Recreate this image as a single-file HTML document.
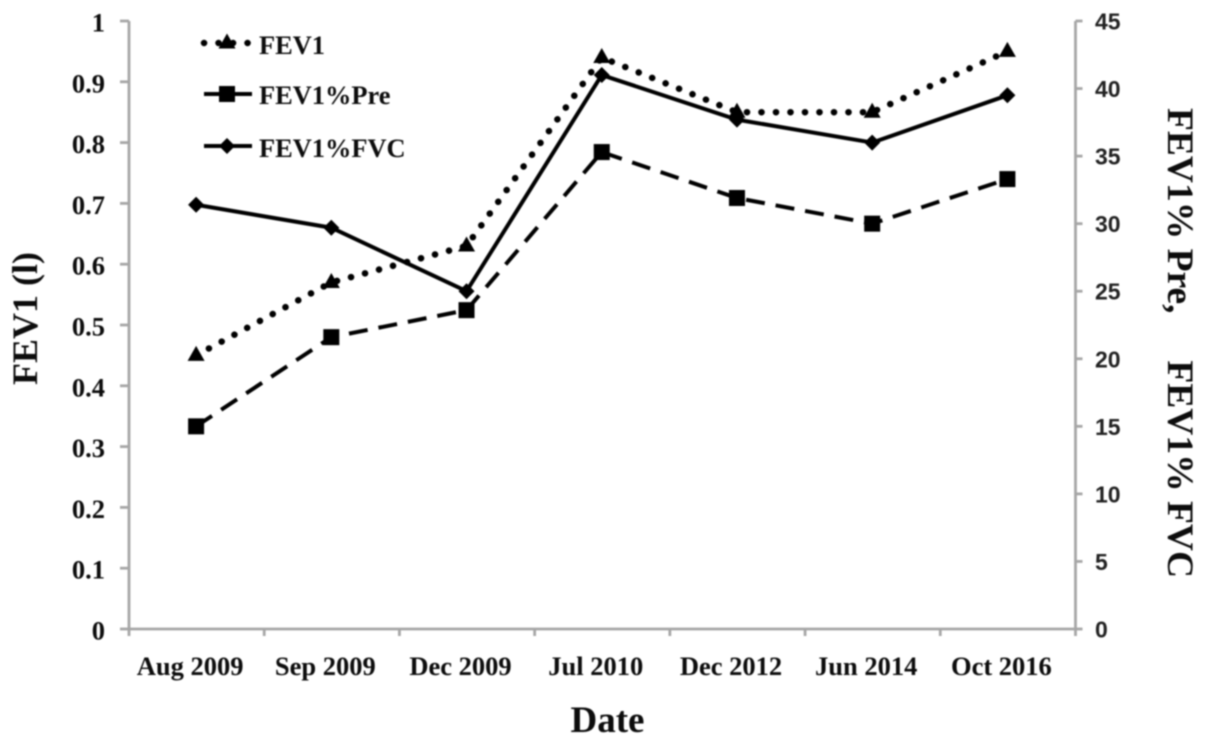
<!DOCTYPE html>
<html lang="en">
<head>
<meta charset="utf-8">
<title>FEV1 over time</title>
<style>
html,body{margin:0;padding:0;background:#fff;width:1205px;height:744px;overflow:hidden}
svg{display:block;filter:blur(0.8px)}
text{fill:#0c0c0c}
.serif{font-family:"Liberation Serif",serif;font-weight:bold}
.sans{font-family:"Liberation Sans",sans-serif;font-weight:bold;fill:#222}
</style>
</head>
<body>
<svg id="chart" xmlns="http://www.w3.org/2000/svg" width="1205" height="744" viewBox="0 0 1205 744">
<rect width="1205" height="744" fill="#fff"/>
<g id="axes"></g>
<g id="series"></g>
<g id="legend"></g>
<text class="serif" x="607.5" y="732" text-anchor="middle" font-size="37">Date</text>
<text class="serif" transform="translate(37,385) rotate(-90)" font-size="36">FEV1 (l)</text>
<text class="serif" transform="translate(1168,343) rotate(90)" text-anchor="middle" font-size="37.5" style="white-space:pre">FEV1% Pre,     FEV1% FVC</text>
</svg>
<script>
const categories = ['Aug 2009', 'Sep 2009', 'Dec 2009', 'Jul 2010', 'Dec 2012', 'Jun 2014', 'Oct 2016'];
const leftTicks = ['0', '0.1', '0.2', '0.3', '0.4', '0.5', '0.6', '0.7', '0.8', '0.9', '1'];
const rightTicks = ['0', '5', '10', '15', '20', '25', '30', '35', '40', '45'];
const fev1Values = [0.45, 0.57, 0.63, 0.94, 0.85, 0.85, 0.95];
const fev1PreValues = [15, 21.6, 23.6, 35.3, 31.9, 30, 33.3];
const fev1FvcValues = [31.4, 29.7, 25, 41, 37.7, 36, 39.5];

const NS = 'http://www.w3.org/2000/svg';
const plotLeft = 129, plotRight = 1075.5, plotTop = 21, plotBottom = 629;
const leftMax = 1, rightMax = 45;

function xScale(i) { return plotLeft - 0.5 + (i + 0.5) * (plotRight - plotLeft) / categories.length; }
function yLeft(v) { return plotBottom - (v / leftMax) * (plotBottom - plotTop); }
function yRight(v) { return plotBottom - (v / rightMax) * (plotBottom - plotTop); }

function make(tag, attrs, parent, text) {
  const el = document.createElementNS(NS, tag);
  for (const k in attrs) el.setAttribute(k, attrs[k]);
  if (text !== undefined) el.textContent = text;
  parent.appendChild(el);
  return el;
}
const axisStyle = { stroke: '#a6a6a6', 'stroke-width': 2.8, fill: 'none' };

function marker(kind, cx, cy, parent) {
  if (kind === 'triangle') {
    return make('polygon', { points: `${cx},${cy - 9.5} ${cx + 8.5},${cy + 5.5} ${cx - 8.5},${cy + 5.5}`, fill: '#000' }, parent);
  }
  if (kind === 'square') {
    return make('rect', { x: cx - 8, y: cy - 8, width: 16, height: 16, fill: '#000' }, parent);
  }
  return make('polygon', { points: `${cx},${cy - 8} ${cx + 8},${cy} ${cx},${cy + 8} ${cx - 8},${cy}`, fill: '#000' }, parent);
}

const axes = document.getElementById('axes');
const seriesGroup = document.getElementById('series');
const legend = document.getElementById('legend');

const leftAxis = make('line', Object.assign({ x1: plotLeft, x2: plotLeft, y1: plotTop, y2: plotBottom }, axisStyle), axes);


const rightAxis = make('line', Object.assign({ x1: plotRight, x2: plotRight, y1: plotTop, y2: plotBottom }, axisStyle), axes);


const xAxis = make('line', Object.assign({ x1: plotLeft, x2: plotRight, y1: plotBottom, y2: plotBottom }, axisStyle), axes);



leftTicks.forEach(function (label) {
  const y = yLeft(Number(label));
  const tick = make('line', Object.assign({ x1: plotLeft - 9, x2: plotLeft, y1: y, y2: y }, axisStyle), axes);
  
  
  const t = make('text', { x: 105, y: y + 10.5, 'text-anchor': 'end', class: 'serif', 'font-size': 26.5 }, axes, label);
  
  
});

rightTicks.forEach(function (label) {
  const y = yRight(Number(label));
  const tick = make('line', Object.assign({ x1: plotRight, x2: plotRight + 7, y1: y, y2: y }, axisStyle), axes);
  
  
  const t = make('text', { x: 1095, y: y + 8.5, class: 'sans', 'font-size': 23 }, axes, label);
  
  
});

categories.forEach(function (label, i) {
  const edge = plotLeft + i * (plotRight - plotLeft) / categories.length;
  const tick = make('line', Object.assign({ x1: edge, x2: edge, y1: plotBottom, y2: plotBottom + 7 }, axisStyle), axes);
  
  
  const t = make('text', { x: xScale(i) - 6, y: 675, 'text-anchor': 'middle', class: 'serif', 'font-size': 26.5 }, axes, label);
  
  
});
const lastTick = make('line', Object.assign({ x1: plotRight, x2: plotRight, y1: plotBottom, y2: plotBottom + 7 }, axisStyle), axes);



function drawSeries(values, scale, lineStyle, kind, name) {
  const g = make('g', {}, seriesGroup);
  
  
  const pts = values.map(function (v, i) { return xScale(i) + ',' + scale(v); }).join(' ');
  const line = make('polyline', Object.assign({ points: pts, fill: 'none', stroke: '#000' }, lineStyle), g);
  
  
  values.forEach(function (v, i) {
    const m = marker(kind, xScale(i), scale(v), g);
    
    
  });
}

const dotted = { 'stroke-width': 6.5, 'stroke-linecap': 'round', 'stroke-dasharray': '0.1 14.4' };
const dashed = { 'stroke-width': 4, 'stroke-dasharray': '19 11' };
const solid = { 'stroke-width': 4 };

drawSeries(fev1PreValues, yRight, dashed, 'square', 'fev1-pre-series');
drawSeries(fev1Values, yLeft, dotted, 'triangle', 'fev1-series');
drawSeries(fev1FvcValues, yRight, solid, 'diamond', 'fev1-fvc-series');

function legendEntry(label, lineStyle, kind, lineY, textY, name) {
  const g = make('g', {}, legend);
  
  
  const l = make('line', Object.assign({ x1: 204, x2: 252, y1: lineY, y2: lineY, stroke: '#000' }, lineStyle), g);
  
  
  const m = marker(kind, 227, lineY, g);
  
  
  const t = make('text', { x: 259, y: textY, class: 'serif', 'font-size': 26.4 }, g, label);
  
  
}
legendEntry('FEV1', dotted, 'triangle', 43, 54, 'legend-entry-fev1');
legendEntry('FEV1%Pre', { 'stroke-width': 4 }, 'square', 94, 104, 'legend-entry-fev1-pre');
legendEntry('FEV1%FVC', solid, 'diamond', 146, 157, 'legend-entry-fev1-fvc');
</script>
</body>
</html>
